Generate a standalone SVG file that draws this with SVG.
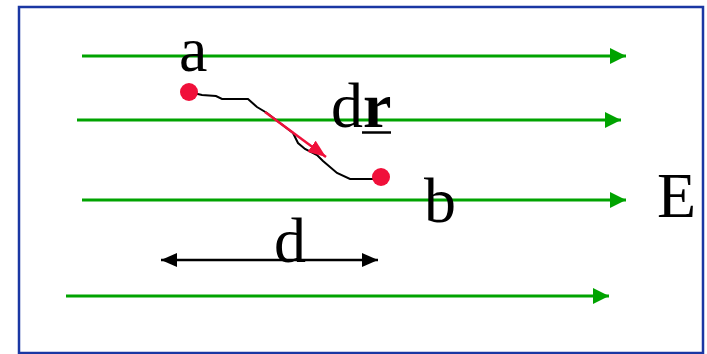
<svg xmlns="http://www.w3.org/2000/svg" width="707" height="354" viewBox="0 0 707 354">
<defs>
<style>
.field{stroke:#00a300;stroke-width:3;fill:none;marker-end:url(#ga)}
.lbl{font-family:"Liberation Serif","Times New Roman",serif;font-size:64px;fill:#000}
.pt{fill:#f0103a}
</style>
<marker id="ga" markerUnits="userSpaceOnUse" markerWidth="16" markerHeight="16" viewBox="0 0 16 16" refX="16" refY="8" orient="auto"><path d="M0,0 L16,8 L0,16 Z" fill="#00a300"/></marker>
<marker id="ka" markerUnits="userSpaceOnUse" markerWidth="16" markerHeight="14" viewBox="0 0 16 14" refX="16" refY="7" orient="auto-start-reverse"><path d="M0,0 L16,7 L0,14 Z" fill="#000"/></marker>
<marker id="ra" markerUnits="userSpaceOnUse" markerWidth="18" markerHeight="14" viewBox="0 0 18 14" refX="18" refY="7" orient="auto"><path d="M0,0 L18,7 L0,14 Z" fill="#f0103a"/></marker>
</defs>
<rect x="19" y="7" width="684" height="346" fill="#fff" stroke="#1a37a3" stroke-width="2.5"/>
<g id="connectors">
<line class="field" x1="82" y1="56" x2="626" y2="56"/>
<line class="field" x1="77" y1="120" x2="621" y2="120"/>
<line class="field" x1="82" y1="200" x2="626" y2="200"/>
<line class="field" x1="66" y1="296" x2="609" y2="296"/>
<path d="M189,92 L202,95 L216,96 L222,99 L232,99 L248,99 L257,107 L267,113 L280,123 L293,133 L298,143 L305,149 L317,155 L323,161 L337,173 L350,179 L381,179" fill="none" stroke="#000" stroke-width="2"/>
<line x1="265" y1="112" x2="326" y2="157" stroke="#f0103a" stroke-width="2.5" marker-end="url(#ra)"/>
<line x1="161" y1="260" x2="378" y2="260" stroke="#000" stroke-width="2.5" marker-start="url(#ka)" marker-end="url(#ka)"/>
</g>
<g id="node-a">
<circle class="pt" cx="189" cy="92" r="9"/>
<text class="lbl" x="179" y="71">a</text>
</g>
<g id="node-b">
<circle class="pt" cx="381" cy="177" r="9"/>
<text class="lbl" x="424" y="222">b</text>
</g>
<g id="label-dr">
<text class="lbl" x="331" y="127">d<tspan font-weight="bold">r</tspan></text>
<line x1="362" y1="132.5" x2="391" y2="132.5" stroke="#000" stroke-width="2.5"/>
</g>
<g id="label-d">
<text class="lbl" x="274" y="262">d</text>
</g>
<g id="label-E">
<text class="lbl" x="657" y="217">E</text>
</g>
</svg>
